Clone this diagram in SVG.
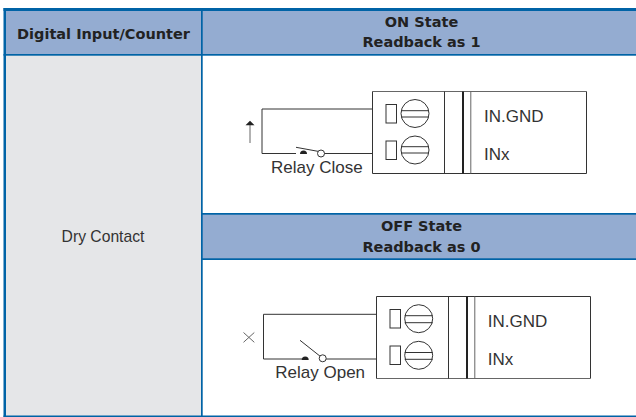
<svg xmlns="http://www.w3.org/2000/svg" width="636" height="417" viewBox="0 0 636 417">
<style>
.b{fill:#0063a6}
.h{font:bold 14.500px "DejaVu Sans",sans-serif;fill:#222;text-anchor:middle}
.t{font:17px "Liberation Sans",sans-serif;fill:#333}
.l{fill:none;stroke:#333;stroke-width:1}
.g{fill:none;stroke:#666;stroke-width:1}
</style>
<rect width="636" height="417" fill="#fff"/>
<g id="table">
<rect x="5" y="10" width="631" height="45" fill="#94acd1"/>
<rect x="5" y="55" width="197" height="361" fill="#e5e6e8"/>
<rect x="202" y="213" width="434" height="46" fill="#94acd1"/>
<rect class="b" x="3.500" y="8" width="632.500" height="3"/>
<rect class="b" x="3.500" y="54" width="632.500" height="1.700"/>
<rect class="b" x="201" y="213" width="435" height="1.700"/>
<rect class="b" x="201" y="258.300" width="435" height="1.700"/>
<rect class="b" x="3.500" y="415.500" width="632.500" height="1.500"/>
<rect class="b" x="3.500" y="8" width="2.500" height="409"/>
<rect class="b" x="201" y="8" width="1.700" height="409"/>
</g>
<g id="header-left"><text class="h" x="103.500" y="38.500">Digital Input/Counter</text></g>
<g id="header-on"><text class="h" x="421.500" y="26.500">ON State</text><text class="h" x="421.500" y="46.500">Readback as 1</text></g>
<g id="dry"><text class="t" x="103" y="241.700" text-anchor="middle" style="font-size:15.700px">Dry Contact</text></g>
<g id="header-off"><text class="h" x="421.500" y="231">OFF State</text><text class="h" x="421.500" y="252">Readback as 0</text></g>
<g id="on-terminal">
<path class="g" d="M372.500 91.500H586.500"/>
<path class="l" d="M372.500 91.500V173.500H586.500V91.500"/>
<path class="l" d="M444.500 91.500V173.500"/>
<path d="M463 91.500V173.500" fill="none" stroke="#222" stroke-width="2"/>
<path class="g" d="M470.800 91.500V173.500"/>
<rect class="l" x="386" y="104.500" width="10.500" height="18.500"/>
<rect class="l" x="386" y="141" width="10.500" height="18.500"/>
<circle class="l" cx="415" cy="113.500" r="14"/><circle class="l" cx="415" cy="150" r="14"/>
<path class="l" d="M401 110.700H429M401 117H429M401 146.700H429M401 153H429"/>
<text class="t" x="484" y="121.700">IN.GND</text><text class="t" x="484" y="159.500">INx</text>
</g>
<g id="on-circuit">
<path class="l" d="M372 109H262V153.500H296M324 153.500H372"/>
<path class="l" d="M296 147.300L320 151.700"/>
<path d="M300 154a3.500 3.500 0 0 1 7 0Z" fill="#222"/>
<circle cx="321" cy="153.500" r="3.500" fill="#fff" stroke="#333"/>
<path class="g" d="M250 143V124"/><path d="M245.500 125.300L250 120.700L254.500 125.300Z" fill="#222"/>
<text class="t" x="271" y="172.700">Relay Close</text>
</g>
<g id="off-terminal">
<path class="l" d="M376.500 296.500H590.500V378.500"/>
<path class="g" d="M376.500 378.500H590.500"/>
<path class="l" d="M376.500 296.500V378.500"/>
<path class="l" d="M448.500 296.500V378.500"/>
<path d="M467 296.500V378.500" fill="none" stroke="#222" stroke-width="2"/>
<path class="g" d="M474.800 296.500V378.500"/>
<rect class="l" x="390" y="309.500" width="10.500" height="18.500"/>
<rect class="l" x="390" y="346" width="10.500" height="18.500"/>
<circle class="l" cx="418.700" cy="318.700" r="14"/><circle class="l" cx="418.700" cy="355.300" r="14"/>
<path class="l" d="M404.700 315.700H432.700M404.700 322.700H432.700M404.700 352.500H432.700M404.700 359.300H432.700"/>
<text class="t" x="487.700" y="326.700">IN.GND</text><text class="t" x="487.700" y="364.500">INx</text>
</g>
<g id="off-circuit">
<path class="l" d="M376 314.300H263.500V359H302M326 359H376"/>
<path class="l" d="M300 340.300L320.700 356.700"/>
<path d="M301.700 360a3.500 3.500 0 0 1 7 0Z" fill="#222"/>
<circle cx="322.700" cy="358.300" r="3.500" fill="#fff" stroke="#333"/>
<path class="g" d="M243.500 332.500L254.300 342.300M254.300 332.500L243.500 342.300"/>
<text class="t" x="275.300" y="377.500">Relay Open</text>
</g>
</svg>
